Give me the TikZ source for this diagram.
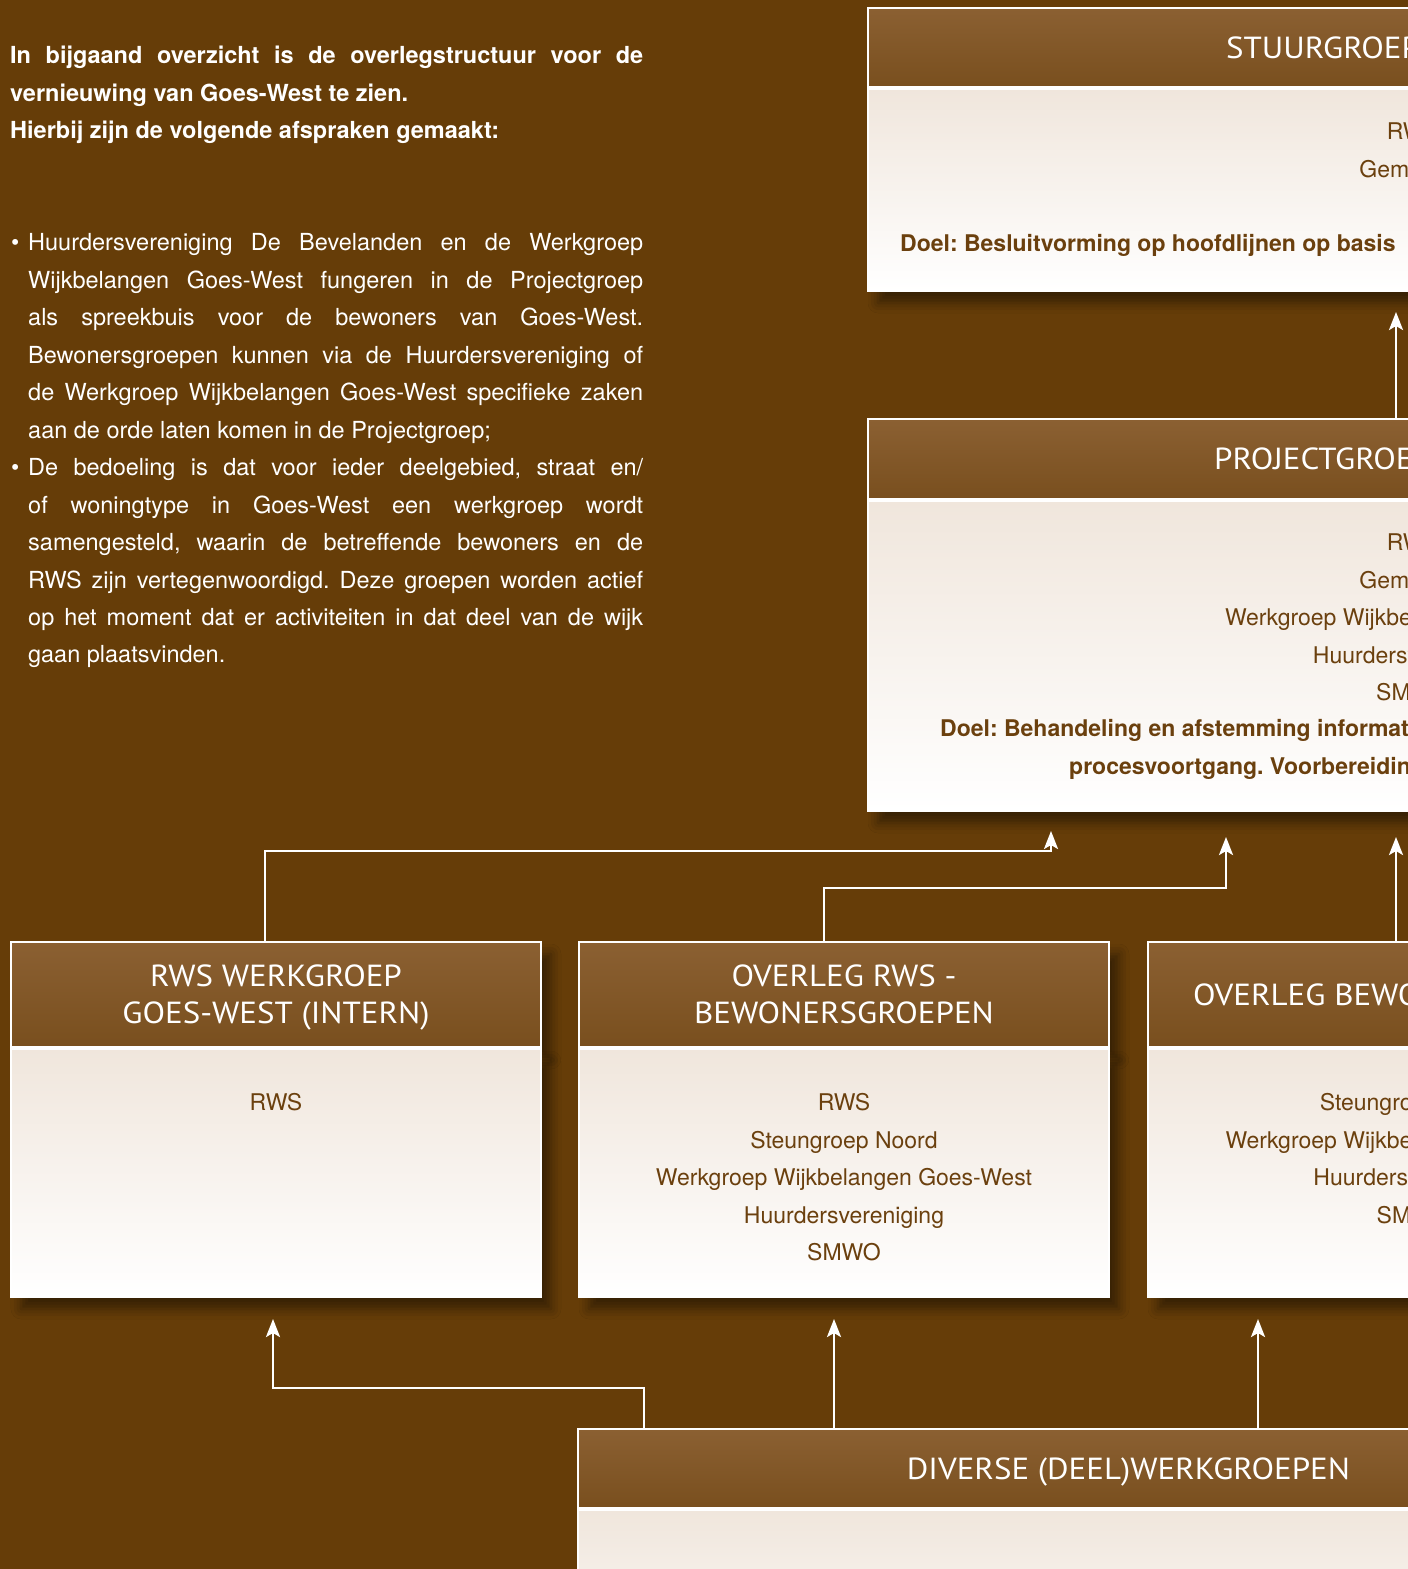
\documentclass[tikz,border=0pt]{standalone}
\usepackage{fontspec}
\setmainfont{TeX Gyre Heros}
\newfontfamily\titlefont[FakeStretch=1.08]{PT Sans}
\usetikzlibrary{arrows.meta,positioning,shadows.blur}
\definecolor{GoesBrown}{HTML}{663D08}
\definecolor{GoesHeadTop}{HTML}{8B6032}
\definecolor{GoesHeadBot}{HTML}{794F1E}
\definecolor{GoesPaper}{HTML}{F0E6DC}
\definecolor{GoesInk}{HTML}{6B400E}
\frenchspacing

\begin{document}
\begin{tikzpicture}[
    x=1pt, y=-1pt,
    boxshadow/.style={blur shadow={shadow xshift=10pt, shadow yshift=-12pt, shadow blur radius=10pt, shadow opacity=45}},
    headbox/.style={draw=white, line width=2pt, top color=GoesHeadTop, bottom color=GoesHeadBot, text=white, align=center, inner sep=0pt, text depth=0pt, font=\titlefont\fontsize{30.5}{37}\selectfont, boxshadow},
    headtitle/.style={text=white, inner sep=0pt, text depth=0pt, font=\titlefont\fontsize{30.5}{37}\selectfont},
    bodybox/.style={draw=white, line width=2pt, top color=GoesPaper, bottom color=white, inner sep=0pt, boxshadow},
    members/.style={text=GoesInk, align=center, inner sep=0pt, font=\fontsize{23}{37.4}\selectfont},
    goal/.style={text=GoesInk, inner sep=0pt, font=\bfseries\fontsize{23}{37.4}\selectfont},
    flow/.style={draw=white, line width=2.5pt, -{Stealth[length=18pt,width=14pt,inset=4pt]}}
]
  \useasboundingbox (0,0) rectangle (1408,1569);
  \clip (0,0) rectangle (1408,1569);
  \fill[GoesBrown] (0,0) rectangle (1408,1569);

  % -------------------------------------------------------------
  % INLEIDING
  % -------------------------------------------------------------
  \node[text=white, text width=633pt, align=justify, inner sep=0pt, anchor=north west,
        font=\fontsize{23.5}{37.45}\selectfont] (intro) at (10,46) {%
    \parindent=0pt\hyphenpenalty=10000\tolerance=9999
    {\bfseries In bijgaand overzicht is de overlegstructuur voor de\linebreak
    vernieuwing van Goes-West te zien.\par
    Hierbij zijn de volgende afspraken gemaakt:\par}
    \vspace{74.9pt}
    \hangindent=18pt\hangafter=1
    \makebox[18pt][l]{\hspace{1pt}\textbullet}Huurdersvereniging De Bevelanden en de Werkgroep\linebreak
    Wijkbelangen Goes-West fungeren in de Projectgroep\linebreak
    als spreekbuis voor de bewoners van Goes-West.\linebreak
    Bewonersgroepen kunnen via de Huurdersvereniging of\linebreak
    de Werkgroep Wijkbelangen Goes-West specifieke zaken\linebreak
    aan de orde laten komen in de Projectgroep;\par
    \hangindent=18pt\hangafter=1
    \makebox[18pt][l]{\hspace{1pt}\textbullet}De bedoeling is dat voor ieder deelgebied, straat en/\linebreak
    of woningtype in Goes-West een werkgroep wordt\linebreak
    samengesteld, waarin de betreffende bewoners en de\linebreak
    RWS zijn vertegenwoordigd. Deze groepen worden actief\linebreak
    op het moment dat er activiteiten in dat deel van de wijk\linebreak
    gaan plaatsvinden.\par
  };

  % -------------------------------------------------------------
  % STUURGROEP
  % -------------------------------------------------------------
  \node[headbox, minimum width=1090pt, minimum height=79pt, anchor=north west] (stuurhead) at (867,7) {};
  \node[headtitle, anchor=west] at (stuurhead.west) [xshift=359pt] {STUURGROEP};
  \node[bodybox, minimum width=1090pt, minimum height=202pt, below=0pt of stuurhead] (stuurbody) {};
  \node[members, anchor=north] (stuurlist) at (stuurbody.north) [yshift=-34.5pt] {RWS\\Gemeente};
  \node[goal, anchor=base west] (stuurgoal) at (stuurbody.north west) [xshift=33pt, yshift=-163pt] {Doel: Besluitvorming op hoofdlijnen op basis};

  % -------------------------------------------------------------
  % PROJECTGROEP
  % -------------------------------------------------------------
  \node[headbox, minimum width=1090pt, minimum height=80pt, anchor=north west] (projhead) at (867,418) {};
  \node[headtitle, anchor=west] at (projhead.west) [xshift=347pt] {PROJECTGROEP};
  \node[bodybox, minimum width=1090pt, minimum height=310pt, below=0pt of projhead] (projbody) {};
  \node[members, anchor=north] (projlist) at (projbody.north) [yshift=-33.5pt]
    {RWS\\Gemeente\\Werkgroep Wijkbelangen Goes-West\\Huurdersvereniging\\SMWO};
  \node[goal, anchor=base west] (projgoal) at (projbody.north west) [xshift=73pt, yshift=-236pt] {Doel: Behandeling en afstemming informatie};
  \node[goal, anchor=base west] (projgoalb) at (projbody.north west) [xshift=202pt, yshift=-274pt] {procesvoortgang. Voorbereiding};

  % -------------------------------------------------------------
  % OVERLEGGEN
  % -------------------------------------------------------------
  \node[headbox, minimum width=530pt, minimum height=105pt, anchor=north west] (rwshead) at (10,941) {RWS WERKGROEP\\GOES-WEST (INTERN)};
  \node[bodybox, minimum width=530pt, minimum height=248pt, below=0pt of rwshead] (rwsbody) {};
  \node[members, anchor=north] (rwslist) at (rwsbody.north) [yshift=-45.5pt] {RWS};

  \node[headbox, minimum width=530pt, minimum height=105pt, anchor=north west] (ovrwshead) at (578,941) {OVERLEG RWS -\\BEWONERSGROEPEN};
  \node[bodybox, minimum width=530pt, minimum height=248pt, below=0pt of ovrwshead] (ovrwsbody) {};
  \node[members, anchor=north] (ovrwslist) at (ovrwsbody.north) [yshift=-45.5pt]
    {RWS\\Steungroep Noord\\Werkgroep Wijkbelangen Goes-West\\Huurdersvereniging\\SMWO};

  \node[headbox, minimum width=531pt, minimum height=105pt, anchor=north west] (ovbewhead) at (1147,941) {OVERLEG BEWONERSGROEPEN};
  \node[bodybox, minimum width=531pt, minimum height=248pt, below=0pt of ovbewhead] (ovbewbody) {};
  \node[members, anchor=north] (ovbewlist) at (ovbewbody.north) [yshift=-45.5pt]
    {Steungroep Noord\\Werkgroep Wijkbelangen Goes-West\\Huurdersvereniging\\SMWO};

  % -------------------------------------------------------------
  % DIVERSE (DEEL)WERKGROEPEN
  % -------------------------------------------------------------
  \node[headbox, minimum width=1101pt, minimum height=79pt, anchor=north west] (divhead) at (577,1428) {DIVERSE (DEEL)WERKGROEPEN};
  \node[bodybox, minimum width=1101pt, minimum height=200pt, below=0pt of divhead] (divbody) {};

  % -------------------------------------------------------------
  % VERBINDINGEN
  % -------------------------------------------------------------
  \coordinate (rwsbend) at (1051,851);
  \coordinate (ovrwsbend) at (1226,888);
  \coordinate (divbend) at (273,1388);
  \coordinate (projfoot) at ([xshift=-17pt]projhead.north);
  \coordinate (ovbewfoot) at ([xshift=-17.5pt]ovbewhead.north);
  \coordinate (divfoota) at ([xshift=-484.5pt]divhead.north);
  \coordinate (divfootb) at ([xshift=-294.5pt]divhead.north);
  \coordinate (divfootc) at ([xshift=129.5pt]divhead.north);

  \draw[flow, shorten >=20pt] (projfoot) -- (projfoot |- stuurbody.south);
  \draw[flow, shorten >=19pt] ([xshift=-11pt]rwshead.north) |- (rwsbend) -- (rwsbend |- projbody.south);
  \draw[flow, shorten >=25pt] ([xshift=-20pt]ovrwshead.north) |- (ovrwsbend) -- (ovrwsbend |- projbody.south);
  \draw[flow, shorten >=25pt] (ovbewfoot) -- (ovbewfoot |- projbody.south);
  \draw[flow, shorten >=21pt] (divfoota) |- (divbend) -- (divbend |- rwsbody.south);
  \draw[flow, shorten >=21pt] (divfootb) -- (divfootb |- ovrwsbody.south);
  \draw[flow, shorten >=21pt] (divfootc) -- (divfootc |- ovbewbody.south);

\end{tikzpicture}
\end{document}
